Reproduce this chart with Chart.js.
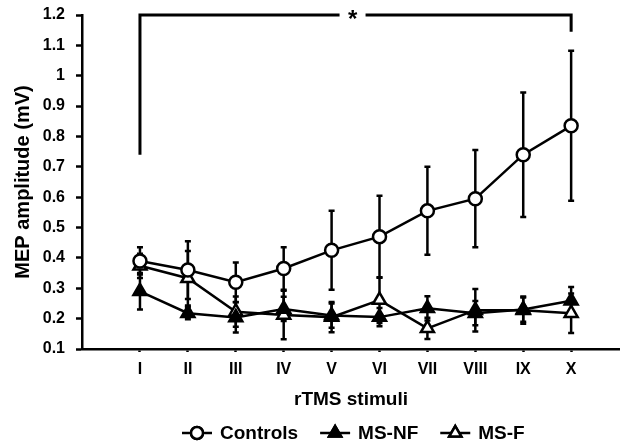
<!DOCTYPE html>
<html><head><meta charset="utf-8">
<script src="https://cdn.jsdelivr.net/npm/chart.js@4/dist/chart.umd.min.js"></script>
<style>html,body{margin:0;padding:0;background:#fff}#wrap{width:620px;height:444px;position:relative}</style>
</head><body><div id="wrap"><canvas id="c"></canvas></div>
<script>
// ---- data ----
const categories = ['I','II','III','IV','V','VI','VII','VIII','IX','X'];
const yTickValues = [0.1,0.2,0.3,0.4,0.5,0.6,0.7,0.8,0.9,1.0,1.1,1.2];
const controls    = [0.39,0.36,0.32,0.365,0.425,0.47,0.555,0.595,0.74,0.835];
const controlsErr = [0.045,0.095,0.065,0.07,0.13,0.135,0.145,0.16,0.205,0.247];
const msnf        = [0.29,0.218,0.204,0.232,0.21,0.205,0.234,0.218,0.23,0.259];
const msnfErr     = [0.06,0.02,0.05,0.04,0.04,0.03,0.04,0.04,0.04,0.045];
const msf         = [0.374,0.333,0.223,0.212,0.205,0.261,0.168,0.228,0.228,0.218];
const msfErr      = [0.04,0.09,0.05,0.08,0.05,0.075,0.035,0.07,0.045,0.065];
const seriesNames = ['Controls','MS-NF','MS-F'];
// significance bracket: from category index, to index, top value, end values
const bracketIdx  = [0, 9];
const bracketTop  = 1.2;
const bracketEnds = [0.74, 1.145];
const bracketLabel = '*';

const FONT = "'Liberation Sans', Arial, sans-serif";
Chart.defaults.color = '#000';
Chart.defaults.font.family = FONT;

const toXY = arr => arr.map((v,i)=>({x:i,y:v}));

const markerStyles = [
  {pointStyle:'circle', fill:'#fff', r:6.5},
  {pointStyle:'triangle', fill:'#000', r:7.5},
  {pointStyle:'triangle', fill:'#fff', r:7.5}
];

const datasets = [
  {label:seriesNames[0], data:toXY(controls), errors:controlsErr},
  {label:seriesNames[1], data:toXY(msnf), errors:msnfErr},
  {label:seriesNames[2], data:toXY(msf), errors:msfErr}
].map((d,k)=>Object.assign(d,{
  borderColor:'#000', borderWidth:2.5, tension:0,
  pointStyle:markerStyles[k].pointStyle, pointRadius:markerStyles[k].r,
  pointBackgroundColor:markerStyles[k].fill, pointBorderColor:'#000', pointBorderWidth:2.5,
  pointHoverRadius:markerStyles[k].r, clip:false, order:k
}));

const errorBars = {
  id:'errorBars',
  beforeDatasetsDraw(chart){
    const ctx=chart.ctx, xs=chart.scales.x, ys=chart.scales.y;
    ctx.save(); ctx.strokeStyle='#000'; ctx.lineWidth=2.5; ctx.lineCap='butt';
    chart.data.datasets.forEach(ds=>{
      ds.data.forEach((p,i)=>{
        const e=ds.errors[i];
        const px=xs.getPixelForValue(p.x);
        const t=ys.getPixelForValue(p.y+e), b=ys.getPixelForValue(p.y-e);
        ctx.beginPath();
        ctx.moveTo(px,t); ctx.lineTo(px,b);
        ctx.moveTo(px-3,t); ctx.lineTo(px+3,t);
        ctx.moveTo(px-3,b); ctx.lineTo(px+3,b);
        ctx.stroke();
      });
    });
    ctx.restore();
  }
};

const bracket = {
  id:'bracket',
  afterDraw(chart){
    const ctx=chart.ctx, xs=chart.scales.x, ys=chart.scales.y;
    const x1=xs.getPixelForValue(bracketIdx[0]), x2=xs.getPixelForValue(bracketIdx[1]);
    const yt=ys.getPixelForValue(bracketTop);
    const y1=ys.getPixelForValue(bracketEnds[0]), y2=ys.getPixelForValue(bracketEnds[1]);
    ctx.save();
    ctx.font = "bold 24px "+FONT;
    const mid=(x1+x2)/2-3;
    const gap=13;
    ctx.strokeStyle='#000'; ctx.lineWidth=3; ctx.lineCap='butt';
    ctx.beginPath();
    ctx.moveTo(x1,y1); ctx.lineTo(x1,yt); ctx.lineTo(mid-gap,yt);
    ctx.moveTo(mid+gap,yt); ctx.lineTo(x2,yt); ctx.lineTo(x2,y2);
    ctx.stroke();
    ctx.fillStyle='#000'; ctx.textAlign='center'; ctx.textBaseline='middle';
    ctx.fillText(bracketLabel, mid, yt+5);
    ctx.restore();
  }
};

const customLegend = {
  id:'customLegend',
  afterDraw(chart){
    const ctx=chart.ctx;
    ctx.save();
    ctx.font="bold 19px "+FONT;
    ctx.textBaseline='middle'; ctx.textAlign='left';
    let x=182; const y=433; const symW=30, gapT=8, gapI=22;
    chart.data.datasets.forEach((ds,k)=>{
      ctx.strokeStyle='#000'; ctx.lineWidth=2.5;
      ctx.beginPath(); ctx.moveTo(x,y); ctx.lineTo(x+symW,y); ctx.stroke();
      Chart.helpers.drawPoint(ctx,{pointStyle:markerStyles[k].pointStyle, radius:markerStyles[k].r-0.5, borderWidth:2.5},x+symW/2,y);
      ctx.fillStyle=markerStyles[k].fill; ctx.fill(); ctx.stroke();
      ctx.fillStyle='#000';
      ctx.fillText(ds.label, x+symW+gapT, y+1);
      x += symW+gapT+ctx.measureText(ds.label).width+gapI;
    });
    ctx.restore();
  }
};

new Chart(document.getElementById('c'),{
  type:'line',
  data:{datasets},
  plugins:[errorBars, bracket, customLegend],
  options:{
    responsive:true, maintainAspectRatio:false, animation:false,
    layout:{autoPadding:false, padding:{top:15,right:0,left:0,bottom:30}},
    plugins:{legend:{display:false}, tooltip:{enabled:false}},
    scales:{
      x:{
        type:'linear', min:-1.21, max:10.02,
        afterBuildTicks(s){ s.ticks = categories.map((c,i)=>({value:i})); },
        afterFit(s){ s.height = 65; s.paddingLeft = 0; s.paddingRight = 0; },
        ticks:{callback:(v)=>categories[v], font:{size:16, weight:'bold'}, padding:8, maxRotation:0, autoSkip:false},
        grid:{drawOnChartArea:false, tickLength:3, tickWidth:2.5, color:'#000'},
        border:{color:'#000', width:2.5},
        title:{display:true, text:'rTMS stimuli', font:{size:19, weight:'bold'}, padding:{top:0,bottom:3}}
      },
      y:{
        min:0.1, max:1.2,
        afterBuildTicks(s){ s.ticks = yTickValues.map(v=>({value:v})); },
        afterFit(s){ s.width = 82; s.paddingTop = 0; s.paddingBottom = 0; },
        ticks:{callback:(v)=>String(Number(v.toFixed(1))), font:{size:16, weight:'bold'}, padding:11},
        grid:{drawOnChartArea:false, tickLength:6, tickWidth:2.5, color:'#000'},
        border:{color:'#000', width:2.5},
        title:{display:true, text:'MEP amplitude (mV)', font:{size:20, weight:'bold'}, padding:{top:11,bottom:0}}
      }
    }
  }
});
</script></body></html>
